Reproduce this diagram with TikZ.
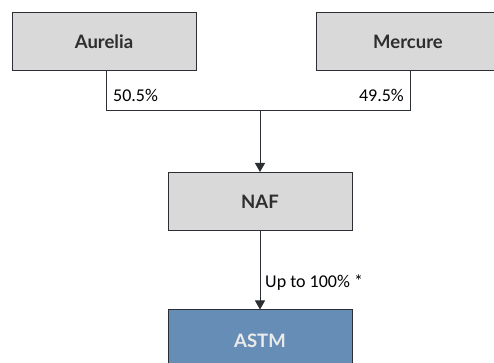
\documentclass[tikz,border=0pt]{standalone}
\usepackage{fontspec}
\setmainfont{Lato}
\newfontfamily\lblfont{Carlito}
\usetikzlibrary{arrows.meta}
\definecolor{boxgray}{HTML}{D9D9D9}
\definecolor{boxblue}{HTML}{668DB5}
\definecolor{edgec}{HTML}{2B2F33}
\tikzset{
  entity/.style={draw=edgec, line width=1pt, fill=boxgray, minimum width=184pt, minimum height=58pt, inner sep=0pt, font=\bfseries\fontsize{18.5}{22}\selectfont, text=black!82},
  mainent/.style={entity, fill=boxblue, text=white!92!black},
  link/.style={draw=edgec, line width=1pt},
  arr/.style={link, -{Triangle[length=9pt,width=10pt]}},
  pct/.style={font=\lblfont\fontsize{18}{20}\selectfont, inner sep=0pt}
}
\begin{document}
\begin{tikzpicture}[x=1pt,y=1pt]
\useasboundingbox (0,0) rectangle (494,363);
\begin{scope}
\clip (0,0) rectangle (494,363);
\node[entity] (aur) at (104,321) {Aurelia};
\node[entity] (mer) at (408,321) {Mercure};
\node[entity] (naf) at (260,161.5) {NAF};
\node[mainent, minimum height=62pt] (astm) at (260,22) {ASTM};
\end{scope}
\coordinate (jl) at (106,252);
\coordinate (jr) at (410,252);
\coordinate (jm) at (260,252);
\draw[link] (aur.south -| jl) -- (jl) -- (jr) -- (mer.south -| jr);
\draw[arr] (jm) -- (naf.north);
\draw[arr] (naf.south) -- (astm.north);
\node[pct, anchor=base west] (p1) at (113,261) {50.5\%};
\node[pct, anchor=base east] (p2) at (404,261) {49.5\%};
\node[pct, anchor=base west] (p3) at (265,75) {Up to 100\% *};
\end{tikzpicture}
\end{document}
